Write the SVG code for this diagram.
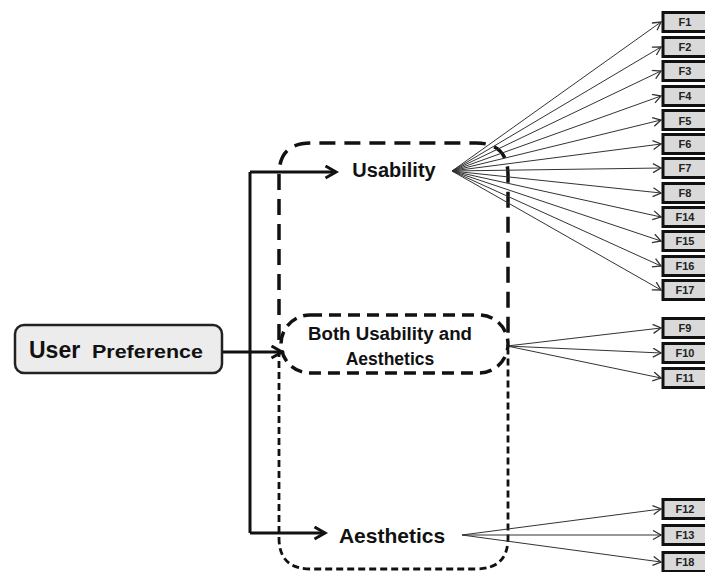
<svg xmlns="http://www.w3.org/2000/svg" width="705" height="572" viewBox="0 0 705 572">
<style>
.fbox rect{fill:#d9d9d9;stroke:#111;stroke-width:3}
.fbox text{font-family:"Liberation Sans",Arial,sans-serif;font-weight:bold;font-size:11px;fill:#222;text-anchor:middle}
.lbl{font-family:"Liberation Sans",Arial,sans-serif;font-weight:bold;fill:#111}
.thin{stroke:#333;stroke-width:1;fill:none;marker-end:url(#ah)}
.thick{stroke:#111;stroke-width:3;fill:none}
</style>
<defs>
<marker id="ah" markerUnits="userSpaceOnUse" markerWidth="12" markerHeight="12" refX="9" refY="5" orient="auto">
<path d="M1,0.5 L9,5 L1,9.5" fill="none" stroke="#333" stroke-width="1.3"/>
</marker>
<marker id="ahb" markerUnits="userSpaceOnUse" markerWidth="16" markerHeight="16" refX="12" refY="7" orient="auto">
<path d="M1.5,1 L12,7 L1.5,13" fill="none" stroke="#111" stroke-width="3"/>
</marker>
</defs>
<rect width="705" height="572" fill="#fff"/>

<g id="groups">
<path d="M279,340 L279,175 Q279,143 311,143 L476,143 Q508,143 508,175 L508,340" fill="none" stroke="#111" stroke-width="3.5" stroke-dasharray="16 9"/>
<path d="M279,350 L279,538 Q279,569 311,569 L476,569 Q508,569 508,538 L508,350" fill="none" stroke="#111" stroke-width="2.8" stroke-dasharray="7 4"/>
</g>

<g id="connectors">
<path class="thick" d="M250,172 L250,533"/>
<path class="thick" d="M250,172 L336,172" marker-end="url(#ahb)"/>
<path class="thick" d="M250,533 L325,533" marker-end="url(#ahb)"/>
<path class="thick" d="M222,352 L282,352" marker-end="url(#ahb)"/>
<path class="thin" d="M452,171 L661,22"/>
<path class="thin" d="M452,171 L661,47"/>
<path class="thin" d="M452,171 L661,71"/>
<path class="thin" d="M452,171 L661,96"/>
<path class="thin" d="M452,171 L661,120"/>
<path class="thin" d="M452,171 L661,144"/>
<path class="thin" d="M452,171 L661,168"/>
<path class="thin" d="M452,171 L661,193"/>
<path class="thin" d="M452,171 L661,217"/>
<path class="thin" d="M452,171 L661,241"/>
<path class="thin" d="M452,171 L661,266"/>
<path class="thin" d="M452,171 L661,290"/>
<path class="thin" d="M507,346 L661,328"/>
<path class="thin" d="M507,346 L661,353"/>
<path class="thin" d="M507,346 L661,378"/>
<path class="thin" d="M462,535 L661,509"/>
<path class="thin" d="M462,535 L661,535"/>
<path class="thin" d="M462,535 L661,562"/>
</g>

<g id="user-preference">
<rect x="15" y="325" width="207" height="48" rx="9" fill="#ececec" stroke="#222" stroke-width="2.5"/>
<text class="lbl" x="29" y="358" font-size="23">User</text>
<text class="lbl" x="92" y="358" font-size="19" textLength="111" lengthAdjust="spacingAndGlyphs">Preference</text>
</g>

<g id="usability">
<text class="lbl" x="394" y="177" font-size="20" text-anchor="middle">Usability</text>
</g>

<g id="both">
<rect x="281" y="315" width="227" height="58" rx="29" fill="none" stroke="#111" stroke-width="3.5" stroke-dasharray="12 7"/>
<text class="lbl" x="390" y="340" font-size="17.5" text-anchor="middle" textLength="164" lengthAdjust="spacingAndGlyphs">Both Usability and</text>
<text class="lbl" x="390" y="365" font-size="17.5" text-anchor="middle">Aesthetics</text>
</g>

<g id="aesthetics">
<text class="lbl" x="392" y="543" font-size="21" text-anchor="middle">Aesthetics</text>
</g>

<g id="F1" class="fbox"><rect x="663" y="12.5" width="50" height="19"/><text x="685" y="26">F1</text></g>
<g id="F2" class="fbox"><rect x="663" y="37.5" width="50" height="19"/><text x="685" y="51">F2</text></g>
<g id="F3" class="fbox"><rect x="663" y="61.5" width="50" height="19"/><text x="685" y="75">F3</text></g>
<g id="F4" class="fbox"><rect x="663" y="86.5" width="50" height="19"/><text x="685" y="100">F4</text></g>
<g id="F5" class="fbox"><rect x="663" y="110.5" width="50" height="19"/><text x="685" y="124.5" font-size="13">F5</text></g>
<g id="F6" class="fbox"><rect x="663" y="134.5" width="50" height="19"/><text x="685" y="148">F6</text></g>
<g id="F7" class="fbox"><rect x="663" y="158.5" width="50" height="19"/><text x="685" y="172">F7</text></g>
<g id="F8" class="fbox"><rect x="663" y="183.5" width="50" height="19"/><text x="685" y="197">F8</text></g>
<g id="F14" class="fbox"><rect x="663" y="207.5" width="50" height="19"/><text x="685" y="221">F14</text></g>
<g id="F15" class="fbox"><rect x="663" y="231.5" width="50" height="19"/><text x="685" y="245">F15</text></g>
<g id="F16" class="fbox"><rect x="663" y="256.5" width="50" height="19"/><text x="685" y="270">F16</text></g>
<g id="F17" class="fbox"><rect x="663" y="280.5" width="50" height="19"/><text x="685" y="294">F17</text></g>
<g id="F9" class="fbox"><rect x="663" y="318.5" width="50" height="19"/><text x="685" y="332">F9</text></g>
<g id="F10" class="fbox"><rect x="663" y="343.5" width="50" height="19"/><text x="685" y="357">F10</text></g>
<g id="F11" class="fbox"><rect x="663" y="368.5" width="50" height="19"/><text x="685" y="382">F11</text></g>
<g id="F12" class="fbox"><rect x="663" y="499.5" width="50" height="19"/><text x="685" y="513">F12</text></g>
<g id="F13" class="fbox"><rect x="663" y="525.5" width="50" height="19"/><text x="685" y="539">F13</text></g>
<g id="F18" class="fbox"><rect x="663" y="552.5" width="50" height="19"/><text x="685" y="566">F18</text></g>
</svg>
